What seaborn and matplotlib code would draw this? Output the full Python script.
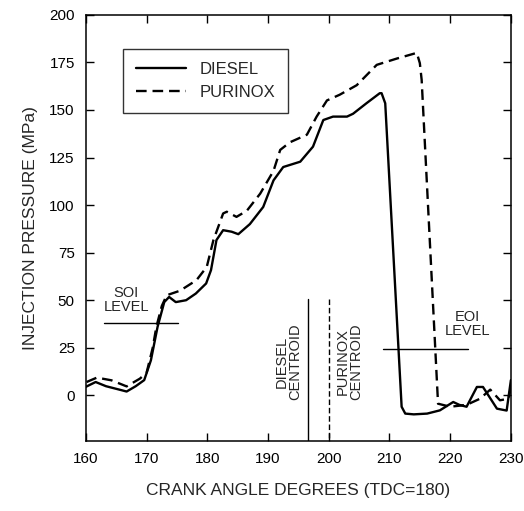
import matplotlib
matplotlib.use("Agg")
import matplotlib.pyplot as plt
import seaborn as sns
import pandas as pd

# Data
diesel_x = [160.0, 161.6, 163.3, 165.5, 166.7, 168.2, 169.6, 170.7, 171.8, 172.9, 173.7,
            174.8, 176.5, 178.1, 179.8, 180.6, 181.5, 182.6, 184.0, 185.1, 187.0, 189.2,
            190.9, 192.5, 195.3, 197.4, 199.1, 200.7, 203.0, 204.0, 206.2, 208.4, 208.7,
            209.3, 212.0, 212.6, 214.0, 216.2, 218.3, 220.5, 221.5, 222.7, 224.4, 225.4,
            227.7, 229.3, 230.0]
diesel_y = [4.5, 7.0, 4.8, 3.0, 2.0, 4.8, 8.0, 18.4, 36.0, 49.0, 51.7,
            49.0, 50.0, 53.5, 58.8, 65.8, 81.6, 86.8, 86.0, 84.7, 90.0, 99.0,
            113.0, 120.0, 122.8, 130.7, 144.7, 146.5, 146.5, 148.0, 153.5, 158.8, 158.8,
            153.5, -6.0, -9.6, -10.0, -9.6, -7.9, -3.5, -5.0, -6.0, 4.4, 4.4,
            -7.0, -8.0, 8.0]

purinox_x = [160.1, 161.8, 164.2, 166.7, 168.9, 170.0, 171.0, 171.6, 172.5, 173.3, 175.5,
             178.2, 179.9, 181.0, 182.6, 183.2, 184.8, 186.5, 188.7, 190.9, 192.0, 193.6,
             196.4, 198.0, 199.7, 201.8, 204.6, 207.9, 211.2, 214.5, 215.0, 215.3,
             218.0, 220.0, 222.7, 224.9, 226.6, 228.2, 229.6, 230.0]
purinox_y = [7.0, 9.3, 7.9, 4.7, 8.8, 12.0, 25.0, 36.0, 47.0, 52.6, 55.0,
             60.5, 67.5, 81.6, 95.6, 96.5, 93.8, 97.0, 106.0, 118.0, 129.0, 133.0,
             137.0, 146.5, 155.0, 158.0, 163.0, 173.7, 177.0, 180.0, 174.6, 165.8,
             -4.4, -6.0, -5.0, -1.8, 3.0, -2.6, -1.8, 4.0]

x_ticks = [160, 170, 180, 190, 200, 210, 220, 230]
y_ticks = [0, 25, 50, 75, 100, 125, 150, 175, 200]

df = pd.concat([
    pd.DataFrame({"angle": diesel_x, "pressure": diesel_y, "fuel": "DIESEL"}),
    pd.DataFrame({"angle": purinox_x, "pressure": purinox_y, "fuel": "PURINOX"}),
])

sns.set_style("ticks")
plt.rcParams["font.family"] = ["Liberation Sans", "DejaVu Sans"]

fig = plt.figure(figsize=(5.24, 5.11), dpi=100)
ax = fig.add_axes([0.164, 0.137, 0.811, 0.834])

sns.lineplot(data=df, x="angle", y="pressure", style="fuel", color="black",
             dashes={"DIESEL": "", "PURINOX": (4.5, 2.5)}, linewidth=1.7,
             sort=False, estimator=None, ax=ax)

ax.set_xlim(160, 230)
ax.set_ylim(-24, 200)
ax.set_xticks(x_ticks)
ax.set_yticks(y_ticks)
ax.tick_params(direction="in", top=True, right=True, length=6, width=1,
               labelsize=11, colors="black", pad=8)
for s in ax.spines.values():
    s.set_color("black")
    s.set_linewidth(1.1)

ax.set_xlabel("CRANK ANGLE DEGREES (TDC=180)", fontsize=12.5, labelpad=12)
ax.set_ylabel("INJECTION PRESSURE (MPa)", fontsize=12.5, labelpad=8)

# Annotations
ax.plot([162.9, 175.2], [38, 38], color="black", lw=1)
ax.text(166.6, 50, "SOI\nLEVEL", ha="center", va="center", fontsize=10.5, linespacing=1.0)
ax.plot([208.9, 223.0], [24.5, 24.5], color="black", lw=1)
ax.text(222.9, 37.5, "EOI\nLEVEL", ha="center", va="center", fontsize=10.5, linespacing=1.0)
ax.plot([196.5, 196.5], [50.5, -24], color="black", lw=1)
ax.plot([200.0, 200.0], [50.5, -24], color="black", lw=1, dashes=(4, 2))
ax.text(193.4, 17.5, "DIESEL\nCENTROID", rotation=90, ha="center", va="center",
        fontsize=10.5, linespacing=1.0)
ax.text(203.4, 17.5, "PURINOX\nCENTROID", rotation=90, ha="center", va="center",
        fontsize=10.5, linespacing=1.0)

leg = ax.legend(loc="upper left", bbox_to_anchor=(0.067, 0.94), fontsize=12,
                frameon=True, fancybox=False, edgecolor="black", handlelength=3.0,
                borderpad=0.8, labelspacing=0.45, handletextpad=0.8)
leg.get_frame().set_linewidth(1)
leg.set_title(None)

fig.savefig("out.png", dpi=100)
